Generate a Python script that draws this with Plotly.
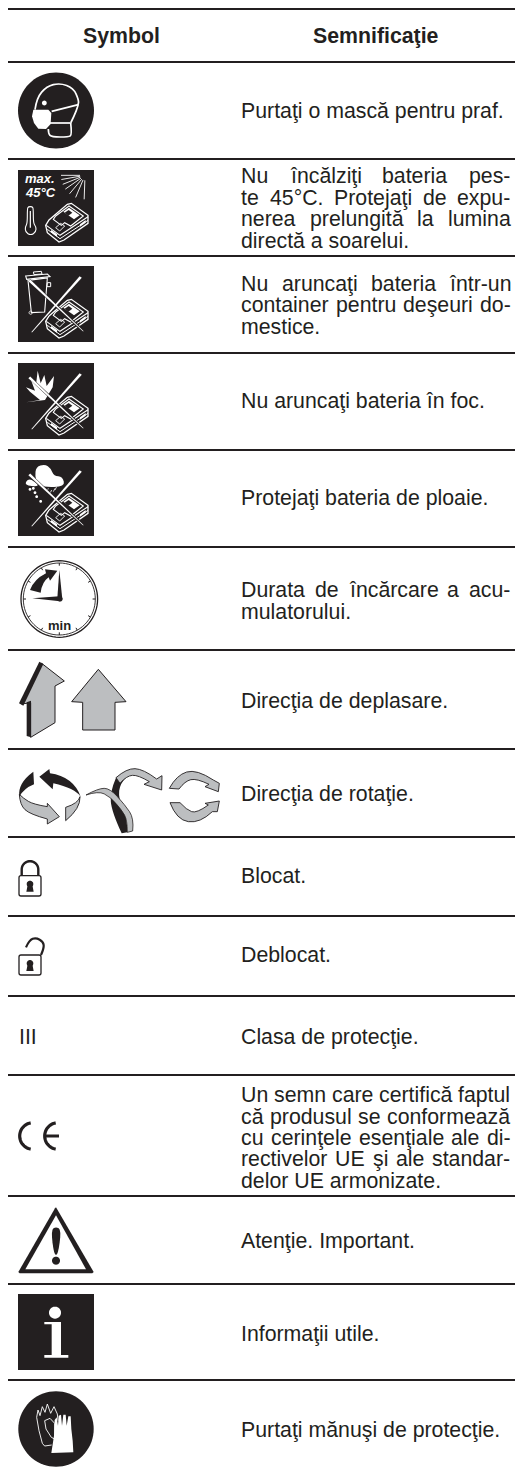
import math
import plotly.graph_objects as go

W, H = 515, 1474
INK = "#231f20"
GREY = "#bcbec0"
FONT = "Liberation Sans"
SIZE = 21.3
LINE_CENTER = 6.9  # baseline offset from box centre

# ---- table content ----
headers = ["Symbol", "Semnificaţie"]
header_centers = [121, 376]
header_baseline = 43
rules_y = [9, 62, 159, 256, 353, 450, 547, 650, 749, 837, 916, 996, 1075, 1196, 1284, 1380]

meanings = [
    ["Purtaţi o mască pentru praf."],
    ["Nu încălziţi bateria pes-", "te 45°C. Protejaţi de expu-", "nerea prelungită la lumina", "directă a soarelui."],
    ["Nu aruncaţi bateria într-un", "container pentru deşeuri do-", "mestice."],
    ["Nu aruncaţi bateria în foc."],
    ["Protejaţi bateria de ploaie."],
    ["Durata de încărcare a acu-", "mulatorului."],
    ["Direcţia de deplasare."],
    ["Direcţia de rotaţie."],
    ["Blocat."],
    ["Deblocat."],
    ["Clasa de protecţie."],
    ["Un semn care certifică faptul", "că produsul se conformează", "cu cerinţele esenţiale ale di-", "rectivelor UE şi ale standar-", "delor UE armonizate."],
    ["Atenţie. Important."],
    ["Informaţii utile."],
    ["Purtaţi mănuşi de protecţie."],
]
first_baselines = [118.3, 183.3, 290.7, 408, 505, 597, 708, 801, 883, 962, 1043.5, 1102, 1248.3, 1340.7, 1436.7]
justified_lines = [
    "Nu încălziţi bateria pes-", "te 45°C. Protejaţi de expu-", "nerea prelungită la lumina",
    "Nu aruncaţi bateria într-un", "container pentru deşeuri do-",
    "Durata de încărcare a acu-",
    "Un semn care certifică faptul", "că produsul se conformează", "cu cerinţele esenţiale ale di-", "rectivelor UE şi ale standar-",
]
TEXT_LEFT, TEXT_RIGHT = 241, 510.5
LEADING = 21.45

# Arial/Liberation advance widths (per 1000 em)
AFM = dict(zip("abcdefghijklmnopqrstuvwxyz",
               [556,556,500,556,556,278,556,556,222,222,500,222,833,556,556,556,556,333,500,278,556,500,722,500,500,500]))
AFM.update({"A":667,"B":667,"C":722,"D":722,"E":667,"F":611,"I":278,"N":722,"P":667,"U":722,"S":667,
            "ţ":278,"ş":500,"ă":556,"î":278,".":278,"-":333,"°":400," ":278,
            "0":556,"1":556,"2":556,"3":556,"4":556,"5":556,"6":556,"7":556,"8":556,"9":556})

def text_w(s):
    return sum(AFM.get(c, 556) for c in s) * SIZE / 1000

annotations = []
def label(x, base, s, size=SIZE, anchor="left", color=INK):
    annotations.append(dict(x=x, y=base - LINE_CENTER * size / SIZE, text=s, xref="x", yref="y", showarrow=False,
                            xanchor=anchor, yanchor="middle", borderpad=0, borderwidth=0,
                            font=dict(family=FONT, size=size, color=color)))

for cx, h in zip(header_centers, headers):
    label(cx, header_baseline, f"<b>{h}</b>", anchor="center")

for lines, b0 in zip(meanings, first_baselines):
    for i, line in enumerate(lines):
        b = b0 + i * LEADING
        if line in justified_lines:
            words = line.split(" ")
            free = TEXT_RIGHT - TEXT_LEFT - sum(text_w(w) for w in words)
            gap = free / (len(words) - 1)
            x = TEXT_LEFT
            for w in words:
                label(x, b, w)
                x += text_w(w) + gap
        else:
            label(TEXT_LEFT, b, line)

# ---- drawing helpers ----
shapes = []
def fmt(p):
    return f"{p[0]:.2f},{p[1]:.2f}"

def spline(pts):
    d = ""
    n = len(pts)
    for i in range(1, n - 1):
        m = ((pts[i][0]+pts[i+1][0])/2, (pts[i][1]+pts[i+1][1])/2)
        d += " Q" + fmt(pts[i]) + " " + fmt(m if i < n - 2 else pts[-1])
    if n == 2:
        d += " L" + fmt(pts[1])
    return d

def to_path(pts, closed=True, smooth=False):
    if smooth:
        n = len(pts)
        if closed:
            mids = [((pts[i][0]+pts[(i+1)%n][0])/2, (pts[i][1]+pts[(i+1)%n][1])/2) for i in range(n)]
            d = "M" + fmt(mids[-1])
            for i in range(n):
                d += " Q" + fmt(pts[i]) + " " + fmt(mids[i])
            return d + " Z"
        return "M" + fmt(pts[0]) + spline(pts)
    return "M" + " L".join(fmt(p) for p in pts) + (" Z" if closed else "")

def crop(ox, oy, pts):
    return [(ox + x / 3, oy + y / 3) for x, y in pts]

def add_path(d, fill, stroke, lw):
    shapes.append(dict(type="path", xref="x", yref="y", path=d, layer="above",
                       fillcolor=fill if fill else "rgba(0,0,0,0)",
                       line=dict(color=stroke if stroke else "rgba(0,0,0,0)", width=lw if stroke else 0)))

def draw(pts, fill=None, stroke=None, lw=1.0, closed=True, smooth=False):
    add_path(to_path(pts, closed, smooth), fill, stroke, lw)

def ribbon(ox, oy, pieces, fill=None, stroke=None, lw=0.9):
    """Closed outline: curved pieces joined by straight lines at sharp corners."""
    pieces = [crop(ox, oy, p) for p in pieces]
    d = "M" + fmt(pieces[0][0])
    prev = pieces[0][0]
    for p in pieces:
        if p[0] != prev:
            d += " L" + fmt(p[0])
        d += spline(p)
        prev = p[-1]
    add_path(d + " Z", fill, stroke, lw)

def circle_pts(cx, cy, r, a0=0, a1=360, n=72):
    return [(cx + r * math.cos(math.radians(a0 + (a1 - a0) * i / n)),
             cy + r * math.sin(math.radians(a0 + (a1 - a0) * i / n))) for i in range(n + 1)]

def circle(cx, cy, r, fill=None, stroke=None, lw=1.0):
    draw(circle_pts(cx, cy, r), fill, stroke, lw)

def seg(x0, y0, x1, y1, color, lw):
    shapes.append(dict(type="line", xref="x", yref="y", x0=x0, y0=y0, x1=x1, y1=y1, layer="above",
                       line=dict(color=color, width=lw)))

def box(x, y, s=76):
    shapes.append(dict(type="rect", xref="x", yref="y", x0=x, y0=y, x1=x + s, y1=y + s, layer="above",
                       fillcolor=INK, line=dict(width=0)))

def battery(bx, by):
    ox, oy = bx - 4, by - 4
    c = lambda p: crop(ox, oy, p)
    W_ = "#ffffff"
    draw(c([(95,178),(105,162),(160,115),(172,112),(222,148),(222,172),(150,222),(135,228),(100,200)]), None, W_, 1.3)
    draw(c([(97,178),(138,208),(222,152)]), None, W_, 1.1, closed=False)
    draw(c([(100,190),(138,218),(222,163)]), None, W_, 1.0, closed=False)
    draw(c([(125,150),(165,120),(208,150),(170,180),(152,170),(142,178),(118,160)]), None, W_, 1.1)
    draw(c([(148,137),(165,125),(197,148),(180,160)]), W_, None)
    draw(c([(152,140),(164,132),(175,140),(163,149)]), INK, None)
    draw(c([(125,185),(140,172),(152,180),(137,195)]), None, W_, 0.9)
    draw(c([(112,192),(130,205),(128,212),(110,198)]), W_, None)
    draw(c([(198,175),(215,162),(215,170),(198,182)]), W_, None)

def cross(bx, by):
    for a, b in [((62.7, 11), (13.7, 66.3)), ((11.3, 14.3), (65.3, 65.3))]:
        seg(bx + a[0], by + a[1], bx + b[0], by + b[1], INK, 2.8)
    draw([(bx+61.6,by+10.2),(bx+63.8,by+11.8),(bx+14,by+66.5),(bx+13.4,by+66.1)], "#ffffff")
    draw([(bx+10.4,by+15.2),(bx+12.2,by+13.4),(bx+65.5,by+65.1),(bx+65.1,by+65.5)], "#ffffff")

# ---- rules ----
for y in rules_y:
    seg(8, y, W, y, INK, 2.2)

# ---- row 1: mask ----
circle(56, 110.5, 38, INK)
o = (10, 68)
c = lambda p: crop(o[0], o[1], p)
draw(c([(75,125),(80,90),(110,55),(150,45),(190,60),(206,95),(205,112),(192,145),(182,165)]), None, "#fff", 1.7, closed=False, smooth=True)
draw(c([(125,130),(205,110)]), None, "#fff", 1.7, closed=False)
draw(c([(118,165),(180,165)]), None, "#fff", 1.7, closed=False)
draw(c([(182,165),(186,200),(176,207),(125,207),(115,197),(115,183)]), None, "#fff", 1.7, closed=False, smooth=True)
draw(c([(70,125),(115,125),(124,135),(122,168),(108,183),(85,182),(72,165),(66,145)]), "#fff")
circle(10 + 103/3, 68 + 105/3, 2.4, "#fff")

# ---- row 2: max 45C ----
box(18, 170)
label(25, 182.7, "<b><i>max.</i></b>", size=13, color="#ffffff")
label(25, 196.7, "<b><i>45°C</i></b>", size=13, color="#ffffff")
fan_angles = [180, 170, 158, 145, 130, 113, 92]
for a in fan_angles:
    cx, cy = 14 + 213/3, 166 + 28/3
    r0, r1 = 5.0, 24
    ca, sa = math.cos(math.radians(a)), math.sin(math.radians(a))
    seg(cx + r0*ca, cy + r0*sa, cx + r1*ca, cy + r1*sa, "#fff", 0.9)
o = (14, 166)
c = lambda p: crop(o[0], o[1], p)
draw(c([(40,128),(43,122),(55,122),(58,128),(58,172),(66,182),(66,198),(50,208),(34,198),(34,182),(40,172)]), None, "#fff", 1.1, smooth=True)
seg(14+49/3, 166+135/3, 14+49/3, 166+185/3, "#fff", 1.2)
battery(18, 170)

# ---- row 3: bin ----
box(18, 266)
o = (14, 262)
c = lambda p: crop(o[0], o[1], p)
draw(c([(42,55),(100,48),(92,150),(52,152)]), None, "#fff", 1.1)
draw(c([(35,42),(100,36),(108,44),(38,52)]), None, "#fff", 1.1)
draw(c([(60,38),(58,30),(82,28),(84,36)]), None, "#fff", 1.0)
draw(c([(100,62),(110,62),(110,74),(99,74)]), None, "#fff", 1.0)
circle(14+50/3, 262+152/3, 1.6, None, "#fff", 0.9)
battery(18, 266)
cross(18, 266)

# ---- row 4: fire ----
box(18, 363)
o = (0, 300)
c = lambda p: crop(o[0], o[1], p)
draw(c([(78,307),(120,300),(90,275),(78,262),(105,272),(92,238),(108,254),(113,212),(122,250),(133,225),(140,258),(162,228),(158,262),(135,300)]), "#fff")
battery(18, 363)
cross(18, 363)

# ---- row 5: rain ----
box(18, 460)
draw(c([(105,530),(108,500),(135,493),(152,505),(162,528),(188,530),(195,560),(130,562),(112,550)]), "#fff", smooth=True)
draw(c([(72,556),(85,535),(105,545),(118,560)]), "#fff", smooth=True)
for dx, dy in [(90,568),(100,565),(110,590),(122,604),(105,578)]:
    circle(dx/3, 300+dy/3, 1.4, "#fff")
for a, b, e, f in [(145,565,140,575),(155,570,150,580),(165,565,160,575),(170,560,165,570)]:
    seg(a/3, 300+b/3, e/3, 300+f/3, "#fff", 0.8)
battery(18, 460)
cross(18, 460)

# ---- row 6: clock ----
cx, cy, r = 59.3, 599, 38.3
circle(cx, cy, r, "#fff", INK, 1.3)
circle(cx, cy, r - 2.3, None, INK, 0.9)
for i in range(12):
    a = math.radians(i * 30)
    seg(cx + (r-2.3)*math.cos(a), cy + (r-2.3)*math.sin(a), cx + (r-5)*math.cos(a), cy + (r-5)*math.sin(a), INK, 1)
o = (0, 540)
c = lambda p: crop(o[0], o[1], p)
draw(c([(178,90),(172,175),(187,178)]), INK)
draw(c([(97,175),(178,169),(180,184)]), INK)
circle(60, 599, 2.6, INK)
ribbon(0, 540, [[(90,150),(102,118),(138,100)], [(135,88),(172,92)], [(172,92),(150,122)], [(150,122),(146,112)], [(146,112),(126,126),(122,158)]], INK)
label(59.7, 629.5, "<b>min</b>", size=13, anchor="center")

# ---- row 7: arrows ----
draw(c([(125,370),(193,423),(165,438),(165,548),(92,592),(92,488),(65,492)]), GREY, INK, 1)
draw(c([(118,365),(130,372),(70,497),(57,490)]), INK)
draw(c([(80,487),(93,482),(93,592),(80,588)]), INK)
draw(c([(295,388),(378,485),(345,487),(345,570),(248,570),(248,487),(215,485)]), GREY, INK, 1)

# ---- row 8: rotation ----
R = (10, 755)
ribbon(*R, [[(28,118),(30,150),(60,178),(112,192)], [(112,192),(112,207)], [(112,207),(148,185)], [(148,185),(112,145)], [(112,145),(112,155)], [(112,155),(70,148),(40,130),(28,118)]], GREY, INK)
ribbon(*R, [[(70,50),(72,88)], [(72,88),(42,100),(28,125)], [(28,125),(22,85),(70,50)]], INK)
ribbon(*R, [[(88,65),(118,42)], [(118,42),(120,55)], [(120,55),(190,65),(212,125)], [(212,125),(195,100),(130,85)], [(130,85),(128,103)], [(128,103),(88,65)]], INK)
ribbon(*R, [[(210,125),(212,160),(167,197)], [(167,197),(167,157)], [(167,157),(205,145),(210,125)]], GREY, INK)

ribbon(*R, [[(318,68),(300,110),(305,170),(335,235)], [(335,235),(352,232)], [(352,232),(352,190),(325,130),(330,85),(350,65)]], INK)
ribbon(*R, [[(228,120),(265,100),(300,100),(345,150),(372,190),(368,228)], [(368,228),(352,232)], [(352,232),(352,195),(335,165),(300,125),(265,108),(228,120)]], GREY, INK, 0.8)
ribbon(*R, [[(318,68),(350,40),(400,42),(440,72)], [(440,72),(456,62)], [(456,62),(455,105)], [(455,105),(402,88)], [(402,88),(418,80)], [(418,80),(385,60),(350,62),(330,85)]], GREY, INK)

ribbon(*R, [[(478,100),(500,60),(560,42),(610,75)], [(610,75),(628,85)], [(628,85),(625,110)], [(625,110),(585,95)], [(585,95),(597,88)], [(597,88),(560,70),(525,78),(507,102)]], GREY, INK)
ribbon(*R, [[(480,143),(500,195),(570,205),(607,170)], [(607,170),(622,170)], [(622,170),(628,138)], [(628,138),(585,145)], [(585,145),(595,150)], [(595,150),(560,175),(530,165),(510,143)]], GREY, INK)

# ---- rows 9, 10: locks ----
def lock(ox, oy, by0, by1, keyy):
    c = lambda p: crop(ox, oy, p)
    x0, x1 = 57, 123
    draw(c([(x0+12,by0),(x1-12,by0),(x1,by0),(x1,by0+12),(x1,by1-12),(x1,by1),(x1-12,by1),(x0+12,by1),(x0,by1),(x0,by1-12),(x0,by0+12),(x0,by0)]),
         "#fff", INK, 1.3, smooth=True)
    circle(ox+90/3, oy+keyy/3, 3.3, INK)
    draw(c([(83,keyy+3),(97,keyy+3),(101,keyy+23),(79,keyy+23)]), INK)

draw([(21.7,876)] + circle_pts(30, 869.5, 8.3, 180, 360, 24) + [(38.3,876)], None, INK, 2.4, closed=False)
lock(0, 840, 107, 168, 132)
o = (0, 840)
c = lambda p: crop(o[0], o[1], p)
draw(c([(78,322),(88,300),(108,293),(130,305),(132,325),(123,345)]), None, INK, 2.2, closed=False, smooth=True)
lock(0, 840, 345, 405, 370)

# ---- row 11: III ----
label(18.6, 1043.5, "III")

# ---- row 12: CE ----
draw(circle_pts(33, 1136, 13.3, 100, 260, 30), None, INK, 3.2, closed=False)
draw(circle_pts(58, 1136, 13.3, 100, 260, 30), None, INK, 3.2, closed=False)
seg(45.5, 1136, 59, 1136, INK, 3)

# ---- row 13: warning ----
o = (0, 1140)
c = lambda p: crop(o[0], o[1], p)
draw(c([(168,202),(281,396),(277,400),(59,400),(55,396),(165,205)]), INK)
draw(c([(168,226),(258,388),(76,388)]), "#fff")
draw(c([(153,270),(168,260),(184,270),(174,345),(162,345)]), INK, smooth=True)
circle(56, 1140+362/3, 4, INK)

# ---- row 14: info ----
box(18, 1294)
circle(55, 1140+518/3, 6, "#fff")
draw(c([(133,546),(183,546),(183,645),(205,645),(205,653),(133,653),(133,645),(155,645),(155,553),(133,553)]), "#fff")

# ---- row 15: gloves ----
circle(56, 1429, 37.7, INK)
o = (14, 1384)
c = lambda p: crop(o[0], o[1], p)
draw(c([(85,178),(75,140),(68,100),(72,78),(78,95),(85,68),(93,85),(100,60),(110,88),(120,68),(130,90),(132,110)]), None, "#fff", 0.9, closed=False)
draw(c([(85,178),(92,186),(113,183)]), None, "#fff", 0.9, closed=False)
draw(c([(92,110),(108,103),(122,118),(122,165),(112,160),(96,135)]), None, "#fff", 0.9)
draw(c([(112,207),(120,155),(122,108),(128,100),(132,125),(134,95),(141,92),(144,125),(148,92),(155,92),(158,125),(163,97),(170,97),(172,135),(176,170),(178,205)]), "#fff")

fig = go.Figure()
fig.add_trace(go.Scatter(x=[0, W], y=[0, H], mode="markers", marker=dict(opacity=0), hoverinfo="skip", showlegend=False))
fig.update_layout(
    width=W, height=H, margin=dict(l=0, r=0, t=0, b=0, pad=0),
    paper_bgcolor="#ffffff", plot_bgcolor="#ffffff",
    xaxis=dict(range=[0, W], visible=False, fixedrange=True),
    yaxis=dict(range=[H, 0], visible=False, fixedrange=True),
    shapes=shapes, annotations=annotations, showlegend=False,
)
fig.write_html("out.html", config={"displayModeBar": False},
               post_script="document.body.style.margin='0';document.documentElement.style.overflow='hidden';")
